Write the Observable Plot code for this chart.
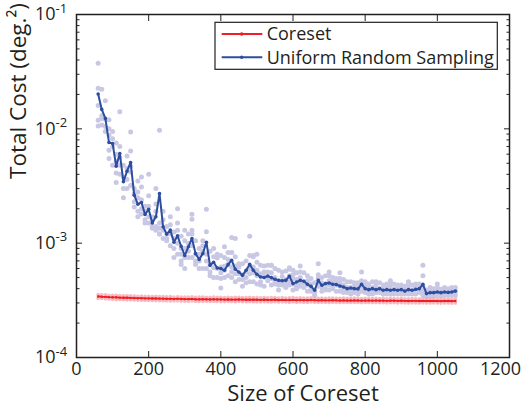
<!DOCTYPE html>
<html><head><meta charset="utf-8">
<script src="https://cdn.jsdelivr.net/npm/d3@7"></script>
<script src="https://cdn.jsdelivr.net/npm/@observablehq/plot@0.6"></script>
<style>body{margin:0;background:#fff}</style>
</head><body><div id="chart"></div>
<script>
// Values are in units of 1e-4 deg^2
const UNIT = 1e-4;
const sizes = [60,70,80,90,100,110,120,130,140,150,160,170,180,190,200,210,220,230,240,250,
260,270,280,290,300,310,320,330,340,350,360,370,380,390,400,410,420,430,440,450,
460,470,480,490,500,510,520,530,540,550,560,570,580,590,600,610,620,630,640,650,
660,670,680,690,700,710,720,730,740,750,760,770,780,790,800,810,820,830,840,850,
860,870,880,890,900,910,920,930,940,950,960,970,980,990,1000,1010,1020,1030,1040,1050];

const uniformMean = [201.4,147.9,123.4,76.0,74.5,47.1,60.9,34.4,42.6,50.8,
26.3,21.9,22.7,17.8,19.8,15.0,17.0,27.2,13.9,12.0,
13.0,10.2,11.6,9.4,7.8,9.3,11.0,8.1,7.2,8.1,
10.2,6.4,6.8,6.07,5.99,5.79,6.49,7.09,5.91,5.59,
5.23,5.79,6.53,5.79,5.34,5.06,5.00,5.16,5.00,4.83,
4.73,4.69,4.73,5.13,4.43,4.57,4.73,4.64,4.37,4.19,
3.87,4.73,4.28,4.43,4.48,4.37,4.34,4.22,4.14,4.00,
4.06,4.00,3.98,4.37,4.00,3.92,4.00,3.92,4.00,3.87,
3.92,3.87,3.92,3.87,3.92,3.81,3.92,3.87,3.94,4.00,
4.37,3.62,3.69,3.69,3.74,3.69,3.74,3.71,3.74,3.81];

const uniformTrialA = [226,108,176,65,95,41,70,30,58,32,
30,17,31,15,26,13.5,22,12,19,10.5,
17,9,15,8,10.5,7.5,13,10.5,6,10.5,
12.6,5.2,9,5,7.8,6.3,8.3,5.6,7.6,4.8,
6.6,5,7.8,4.6,6.8,4.3,6.3,4.7,6.4,4.4,
5.8,4.3,5.7,4.6,5.3,4.2,5.6,4.5,5.2,4.1,
4.5,4.5,5,4,5.2,4,4.9,3.8,4.8,3.7,
4.6,3.7,4.5,4.2,4.6,3.6,4.6,3.7,4.5,3.6,
4.4,3.6,4.4,3.6,4.3,3.6,4.4,3.6,4.4,3.7,
4.2,3.4,4.1,3.45,4.1,3.45,4.1,3.5,4.1,3.5];

const uniformTrialB = [106,222,95,120,48,60,40,48,30,64,
20.7,25,18,21,15,17,13,15,11,14,
9.5,12.5,8,11.5,6,12,7.5,6.5,9,6,
7,8.5,5,7.4,4.9,7.5,5.2,8.3,4.6,6.6,
4.2,7,4.6,7.6,4.4,6.4,4.2,6.4,4.3,6,
3.9,5.6,4.1,5.9,3.9,5.5,4.2,5.5,3.8,4.9,
3.5,5.3,3.8,5.2,3.9,5,3.8,4.9,3.7,4.6,
3.6,4.5,3.6,4.7,3.7,4.4,3.6,4.4,3.7,4.3,
3.6,4.3,3.6,4.3,3.6,4.2,3.6,4.3,3.6,4.4,
3.5,3.9,3.45,4.0,3.5,3.95,3.5,4.0,3.5,4.1];

const uniformTrialC = [119,123,121,88,70,52,56,38,45,42,
27,19,24,16,21,14,19,13.5,16,12,
12,7.5,13,9,7.5,10,9.5,8,7,8.5,
8,6.5,7.6,6,6.2,5.0,6.5,6.2,6.3,5.4,
5.3,5.6,6,5.5,5.2,5.4,5.1,5,4.9,5,
4.7,4.6,4.8,4.3,4.4,4.8,4.5,4.6,4.3,4.4,
3.9,4.2,4.5,4.4,4.3,4.6,4.3,4.2,4.3,4.1,
4.1,4,3.9,4.2,4,3.9,4.1,3.9,4,3.9,
3.9,3.8,4,3.9,3.9,3.8,3.9,3.9,4,4,
3.8,3.6,3.7,3.7,3.7,3.7,3.8,3.7,3.7,3.8];

const uniformTrialD = [160,130,105,55,82,34,48,25,36,47,
23,28,20,19,17,16,14,12,13,11,
14.5,11,10,7,9,8.5,12,7,8,9.5,
6,5.6,6.1,8,5.5,5.8,7.2,5,5.4,6.2,
4.8,4.5,5.4,6.2,5.8,4.6,5.6,5.6,5.5,4.6,
4.3,5.1,4.4,5.2,4.9,4.0,5.0,4.1,4.7,3.8,
3.7,4.9,4.1,3.9,4.7,4.2,4.6,4.5,3.9,3.9,
3.9,4.2,4.2,3.8,4.3,4.1,3.9,4.2,3.8,4.1,
4.1,3.95,3.75,4.1,4.1,3.9,4.2,3.8,4.1,3.9,
3.9,3.7,3.85,3.6,3.85,3.6,3.9,3.65,3.9,3.75];

const outlierSizes  = [60,120,150,90,110,230,200,180,170,220,280,300,320,320,290,360,410,430,400,440,430,480,490,540,500,590,590,620,600,670,700,730,790,830,870,920,960,960,1000];
const outlierValues = [374,141,94,100,75,97,40,38,35,30,20,13,17.9,16.2,6.5,19.8,9.3,8.3,4.05,11,11.2,11.5,7.8,6.4,8,6.0,6.1,6.3,5.8,6.6,5.6,5.5,5.6,4.6,4.7,4.6,5.2,6.4,4.4];

const coresetMean = [3.42,3.40,3.39,3.37,3.36,3.36,3.34,3.33,3.33,3.32,
3.31,3.30,3.30,3.29,3.29,3.28,3.28,3.27,3.27,3.26,
3.26,3.25,3.26,3.25,3.24,3.24,3.25,3.23,3.23,3.24,
3.23,3.22,3.23,3.22,3.22,3.21,3.22,3.21,3.21,3.22,
3.21,3.20,3.21,3.20,3.20,3.19,3.20,3.19,3.19,3.20,
3.18,3.19,3.18,3.18,3.19,3.17,3.18,3.17,3.17,3.18,
3.17,3.16,3.17,3.16,3.16,3.17,3.16,3.15,3.16,3.15,
3.15,3.16,3.15,3.14,3.15,3.15,3.14,3.15,3.14,3.14,
3.13,3.14,3.14,3.13,3.14,3.13,3.12,3.13,3.13,3.12,
3.13,3.12,3.12,3.13,3.12,3.11,3.12,3.12,3.11,3.12];

const coresetTrialA = [3.55,3.52,3.53,3.50,3.49,3.50,3.47,3.46,3.47,3.45,
3.44,3.43,3.44,3.42,3.43,3.41,3.42,3.40,3.41,3.39,
3.40,3.38,3.39,3.38,3.37,3.38,3.39,3.36,3.37,3.38,
3.36,3.35,3.37,3.35,3.36,3.34,3.36,3.34,3.35,3.36,
3.34,3.33,3.35,3.33,3.34,3.32,3.34,3.32,3.33,3.34,
3.31,3.33,3.31,3.32,3.33,3.30,3.32,3.30,3.31,3.32,
3.30,3.29,3.31,3.29,3.30,3.31,3.29,3.28,3.30,3.28,
3.28,3.30,3.28,3.27,3.29,3.28,3.27,3.29,3.27,3.28,
3.26,3.28,3.27,3.26,3.28,3.26,3.25,3.27,3.26,3.25,
3.27,3.25,3.26,3.27,3.25,3.24,3.26,3.25,3.24,3.26];

const coresetTrialB = [3.30,3.29,3.27,3.25,3.24,3.23,3.22,3.21,3.20,3.20,
3.19,3.18,3.17,3.17,3.16,3.16,3.15,3.15,3.14,3.14,
3.13,3.13,3.14,3.12,3.12,3.11,3.13,3.11,3.10,3.12,
3.11,3.10,3.11,3.10,3.09,3.09,3.10,3.09,3.08,3.10,
3.09,3.08,3.09,3.08,3.07,3.07,3.08,3.07,3.06,3.08,
3.06,3.07,3.06,3.05,3.07,3.05,3.06,3.05,3.04,3.06,
3.05,3.04,3.05,3.04,3.03,3.05,3.04,3.03,3.04,3.03,
3.03,3.04,3.03,3.02,3.03,3.03,3.02,3.03,3.02,3.02,
3.01,3.02,3.02,3.01,3.02,3.01,3.00,3.01,3.01,3.00,
3.01,3.00,3.00,3.01,3.00,2.99,3.00,3.00,2.99,3.00];

const xTicks = [0,200,400,600,800,1000,1200];
const xLabelTicks = [0,200,400,600,800,1000];
const xLastTick = [1200];
const yMajor = [1e-4,1e-3,1e-2,1e-1];
const yExponents = ["-4","-3","-2","-1"];
const yMinor = [2,3,4,5,6,7,8,9].flatMap(m => [1e-4,1e-3,1e-2].map(d => m*d));
const seriesNames = ["Coreset","Uniform Random Sampling"];

const ink = "#231f20";
const red = "#ee1f26";
const blue = "#2d4e9f";

const toPts = arr => arr.map((v,i) => ({x: sizes[i], y: v*UNIT}));
const blueLine = toPts(uniformMean);
const redLine = toPts(coresetMean);
const blueScatter = [...toPts(uniformTrialA), ...toPts(uniformTrialB), ...toPts(uniformTrialC), ...toPts(uniformTrialD),
  ...outlierSizes.map((s,i) => ({x: s, y: outlierValues[i]*UNIT}))];
const redScatter = [...toPts(coresetTrialA), ...toPts(coresetTrialB)];

const fontFamily = "Open Sans";

const svg = Plot.plot({
  width: 522, height: 409,
  marginLeft: 76, marginRight: 13, marginTop: 14, marginBottom: 52,
  style: {fontFamily, background: "#fff", color: ink},
  x: {domain: [0,1200], label: null},
  y: {type: "log", domain: [1e-4, 1e-1], label: null},
  marks: [
    Plot.dot(blueScatter, {x: "x", y: "y", r: 2.5, fill: "#c8c8e5", stroke: "none"}),
    Plot.dot(redScatter, {x: "x", y: "y", r: 1.9, fill: "#f6a9ae", fillOpacity: 0.8, stroke: "none"}),
    Plot.line(redLine, {x: "x", y: "y", stroke: red, strokeWidth: 1.8}),
    Plot.dot(redLine, {x: "x", y: "y", r: 1.2, fill: red, stroke: "none"}),
    Plot.line(blueLine, {x: "x", y: "y", stroke: blue, strokeWidth: 2}),
    Plot.dot(blueLine, {x: "x", y: "y", r: 1.8, fill: blue, stroke: "none"}),
    // inward ticks
    Plot.axisX(xTicks, {anchor: "bottom", tickSize: -6, tickFormat: () => "", stroke: ink, strokeWidth: 1}),
    Plot.axisX(xTicks, {anchor: "top", tickSize: -6, tickFormat: () => "", stroke: ink, strokeWidth: 1}),
    Plot.axisY(yMajor, {anchor: "left", tickSize: -6, tickFormat: () => "", stroke: ink}),
    Plot.axisY(yMajor, {anchor: "right", tickSize: -6, tickFormat: () => "", stroke: ink}),
    Plot.axisY(yMinor, {anchor: "left", tickSize: -3.5, tickFormat: () => "", stroke: ink}),
    Plot.axisY(yMinor, {anchor: "right", tickSize: -3.5, tickFormat: () => "", stroke: ink}),
    // tick labels
    Plot.axisX(xLabelTicks, {anchor: "bottom", tickSize: 0, tickPadding: 5, tickFormat: d => String(d), fontSize: 18, fill: ink}),
    Plot.axisX(xLastTick, {anchor: "bottom", tickSize: 0, tickPadding: 5, tickFormat: d => String(d), fontSize: 18, fill: ink, dx: -9}),
    Plot.text(yMajor, {y: d => d, frameAnchor: "left", text: () => "10", textAnchor: "end", dx: -21, fontSize: 18, fill: ink}),
    Plot.text(yMajor, {y: d => d, frameAnchor: "left", text: (d,i) => yExponents[i], textAnchor: "start", dx: -21, dy: -6, fontSize: 13, fill: ink}),
    // axis titles
    Plot.text(["Size of Coreset"], {frameAnchor: "bottom", dx: 10, dy: 43, lineAnchor: "bottom", fontSize: 22, fill: ink}),
    Plot.text(["Total Cost (deg.²)"], {frameAnchor: "left", rotate: -90, dx: -51, dy: -7, lineAnchor: "bottom", fontSize: 22.5, fill: ink}),
    Plot.frame({stroke: ink, strokeWidth: 1.5})
  ]
});

// legend
const g = d3.select(svg).append("g").attr("font-family", fontFamily).attr("text-anchor", "start");
g.append("rect").attr("x", 215).attr("y", 22.3).attr("width", 282.3).attr("height", 47)
  .attr("fill", "#fff").attr("stroke", ink).attr("stroke-width", 1.2);
[[red, 34], [blue, 57.3]].forEach(([c, y], i) => {
  g.append("line").attr("x1", 221.7).attr("x2", 262.3).attr("y1", y).attr("y2", y)
    .attr("stroke", c).attr("stroke-width", i ? 2 : 1.8);
  g.append("circle").attr("cx", 241.7).attr("cy", y).attr("r", 1.8).attr("fill", c);
  g.append("text").attr("x", 266.7).attr("y", y + 6.3).attr("font-size", 18).attr("fill", ink)
    .attr("text-anchor", "start").text(seriesNames[i]);
});

document.getElementById("chart").appendChild(svg);
</script>
</body></html>
